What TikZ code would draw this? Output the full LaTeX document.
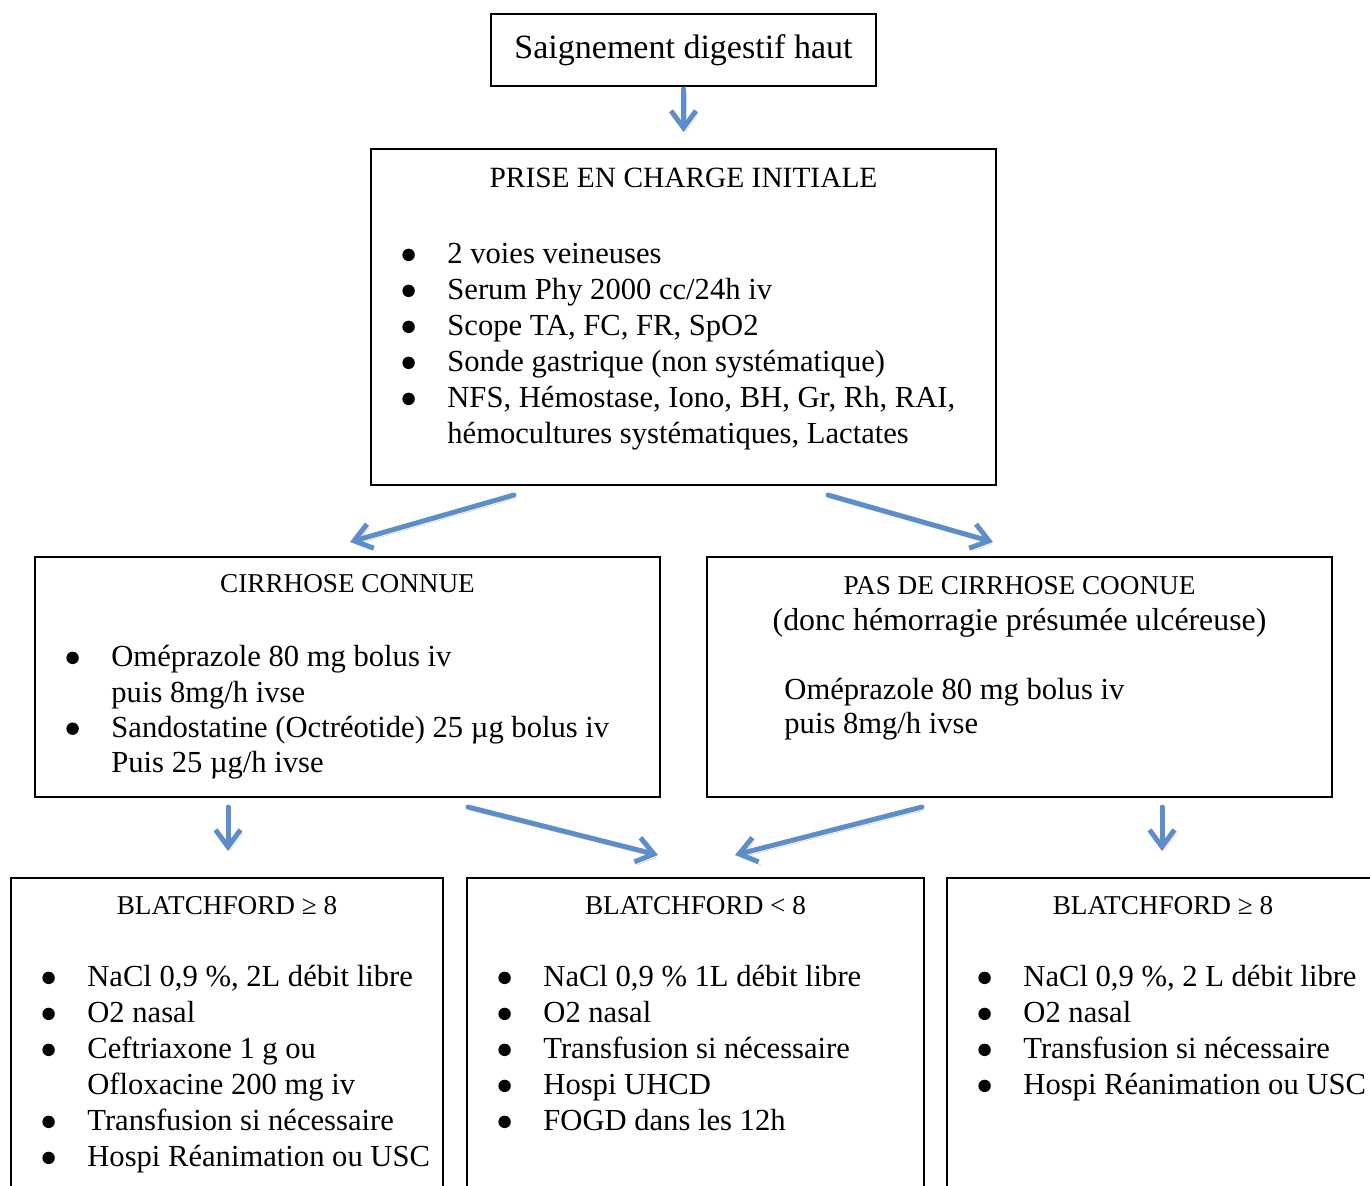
\documentclass[tikz,border=0pt]{standalone}
\usepackage{fontspec}
\setmainfont{Liberation Serif}
\usetikzlibrary{arrows.meta,positioning,calc}
\tikzset{>=stealth}
\definecolor{flowblue}{RGB}{94,142,201}
\newcommand{\itm}{\makebox[23pt][l]{\hspace*{0.5pt}\tikz[baseline=-4.4pt]\fill (0,0) circle (3.1pt);}}
\newcommand{\ind}{\hspace*{23pt}}
\tikzset{
  box/.style={draw, line width=1pt, inner sep=0pt},
  head/.style={inner sep=0pt, font=\fontsize{13.6}{18}\selectfont},
  items/.style={align=left, inner sep=0pt, anchor=north west, font=\fontsize{15.3}{18}\selectfont},
  flow/.style={draw=flowblue, line width=2.5pt, line cap=round, line join=round,
    -{Straight Barb[length=8.5pt,width=12.5pt]},
    preaction={draw=black!40, opacity=0.35, transform canvas={shift={(1.2pt,-1.6pt)}}}},
}

\begin{document}
\begin{tikzpicture}[x=0.5pt,y=-0.5pt]
    \useasboundingbox (0,0) rectangle (1370,1185);
    \clip (0,0) rectangle (1370,1185);
    % boites
    \node[box, minimum width=192.5pt, minimum height=36pt, font=\fontsize{17}{20}\selectfont] (top) at (683.5,50) {Saignement digestif haut};
    \node[box, minimum width=312.5pt, minimum height=168pt] (init) at (683.5,317) {};
    \node[box, minimum width=312.5pt, minimum height=120pt] (cirr) at (347.5,677) {};
    \node[box, minimum width=312.5pt, minimum height=120pt] (nocirr) at (1019.5,677) {};
    \node[box, minimum width=216pt, minimum height=176pt] (bla) at (227,1054) {};
    \node[box, minimum width=228.5pt, minimum height=176pt] (blb) at (695.5,1054) {};
    \node[box, minimum width=216pt, minimum height=176pt] (blc) at (1163,1054) {};
    % textes
    \node[head, font=\fontsize{14.7}{18}\selectfont] (initT) at (683.5,178) {PRISE EN CHARGE INITIALE};
    \node[items] (initL) at (401,243) {\itm 2 voies veineuses\\
      \itm Serum Phy 2000 cc/24h iv\\
      \itm Scope TA, FC, FR, SpO2\\
      \itm Sonde gastrique (non systématique)\\
      \itm NFS, Hémostase, Iono, BH, Gr, Rh, RAI,\\
      \ind hémocultures systématiques, Lactates};
    \node[head] (cirrT) at (347.5,584) {CIRRHOSE CONNUE};
    \node[items, font=\fontsize{15.3}{17.7}\selectfont] (cirrL) at (65,645) {\itm Oméprazole 80 mg bolus iv\\
      \ind puis 8mg/h ivse\\
      \itm Sandostatine (Octréotide) 25 µg bolus iv\\
      \ind Puis 25 µg/h ivse};
    \node[head, align=center] (nocirrT) at (1019.5,607) {PAS DE CIRRHOSE COONUE\\
      \fontsize{15.9}{18}\selectfont (donc hémorragie présumée ulcéreuse)};
    \node[items, font=\fontsize{15.3}{17}\selectfont] (nocirrL) at (784,678) {Oméprazole 80 mg bolus iv\\
      puis 8mg/h ivse};
    \node[head] (blaT) at (227,906) {BLATCHFORD ≥ 8};
    \node[items] (blaL) at (41,965) {\itm NaCl 0,9 \%, 2L débit libre\\
      \itm O2 nasal\\
      \itm Ceftriaxone 1 g ou\\
      \ind Ofloxacine 200 mg iv\\
      \itm Transfusion si nécessaire\\
      \itm Hospi Réanimation ou USC};
    \node[head] (blbT) at (695.5,906) {BLATCHFORD < 8};
    \node[items] (blbL) at (497,965) {\itm NaCl 0,9 \% 1L débit libre\\
      \itm O2 nasal\\
      \itm Transfusion si nécessaire\\
      \itm Hospi UHCD\\
      \itm FOGD dans les 12h};
    \node[head] (blcT) at (1163,906) {BLATCHFORD ≥ 8};
    \node[items] (blcL) at (977,965) {\itm NaCl 0,9 \%, 2 L débit libre\\
      \itm O2 nasal\\
      \itm Transfusion si nécessaire\\
      \itm Hospi Réanimation ou USC};
    % fleches
    \draw[flow] ([shift={(0,2)}]top.south) -- ([shift={(0,-16)}]init.north);
    \draw[flow] ([shift={(-169.5,9)}]init.south) -- ([shift={(2.5,-14)}]cirr.north);
    \draw[flow] ([shift={(144.5,9)}]init.south) -- ([shift={(-26.5,-14)}]nocirr.north);
    \draw[flow] ([shift={(-119.5,9)}]cirr.south) -- ([shift={(1,-26)}]bla.north);
    \draw[flow] ([shift={(120.5,9)}]cirr.south) -- ([shift={(-37.5,-22)}]blb.north);
    \draw[flow] ([shift={(-97.5,9)}]nocirr.south) -- ([shift={(39.5,-22)}]blb.north);
    \draw[flow] ([shift={(142.5,9)}]nocirr.south) -- ([shift={(-1,-26)}]blc.north);
  \end{tikzpicture}
\end{document}
